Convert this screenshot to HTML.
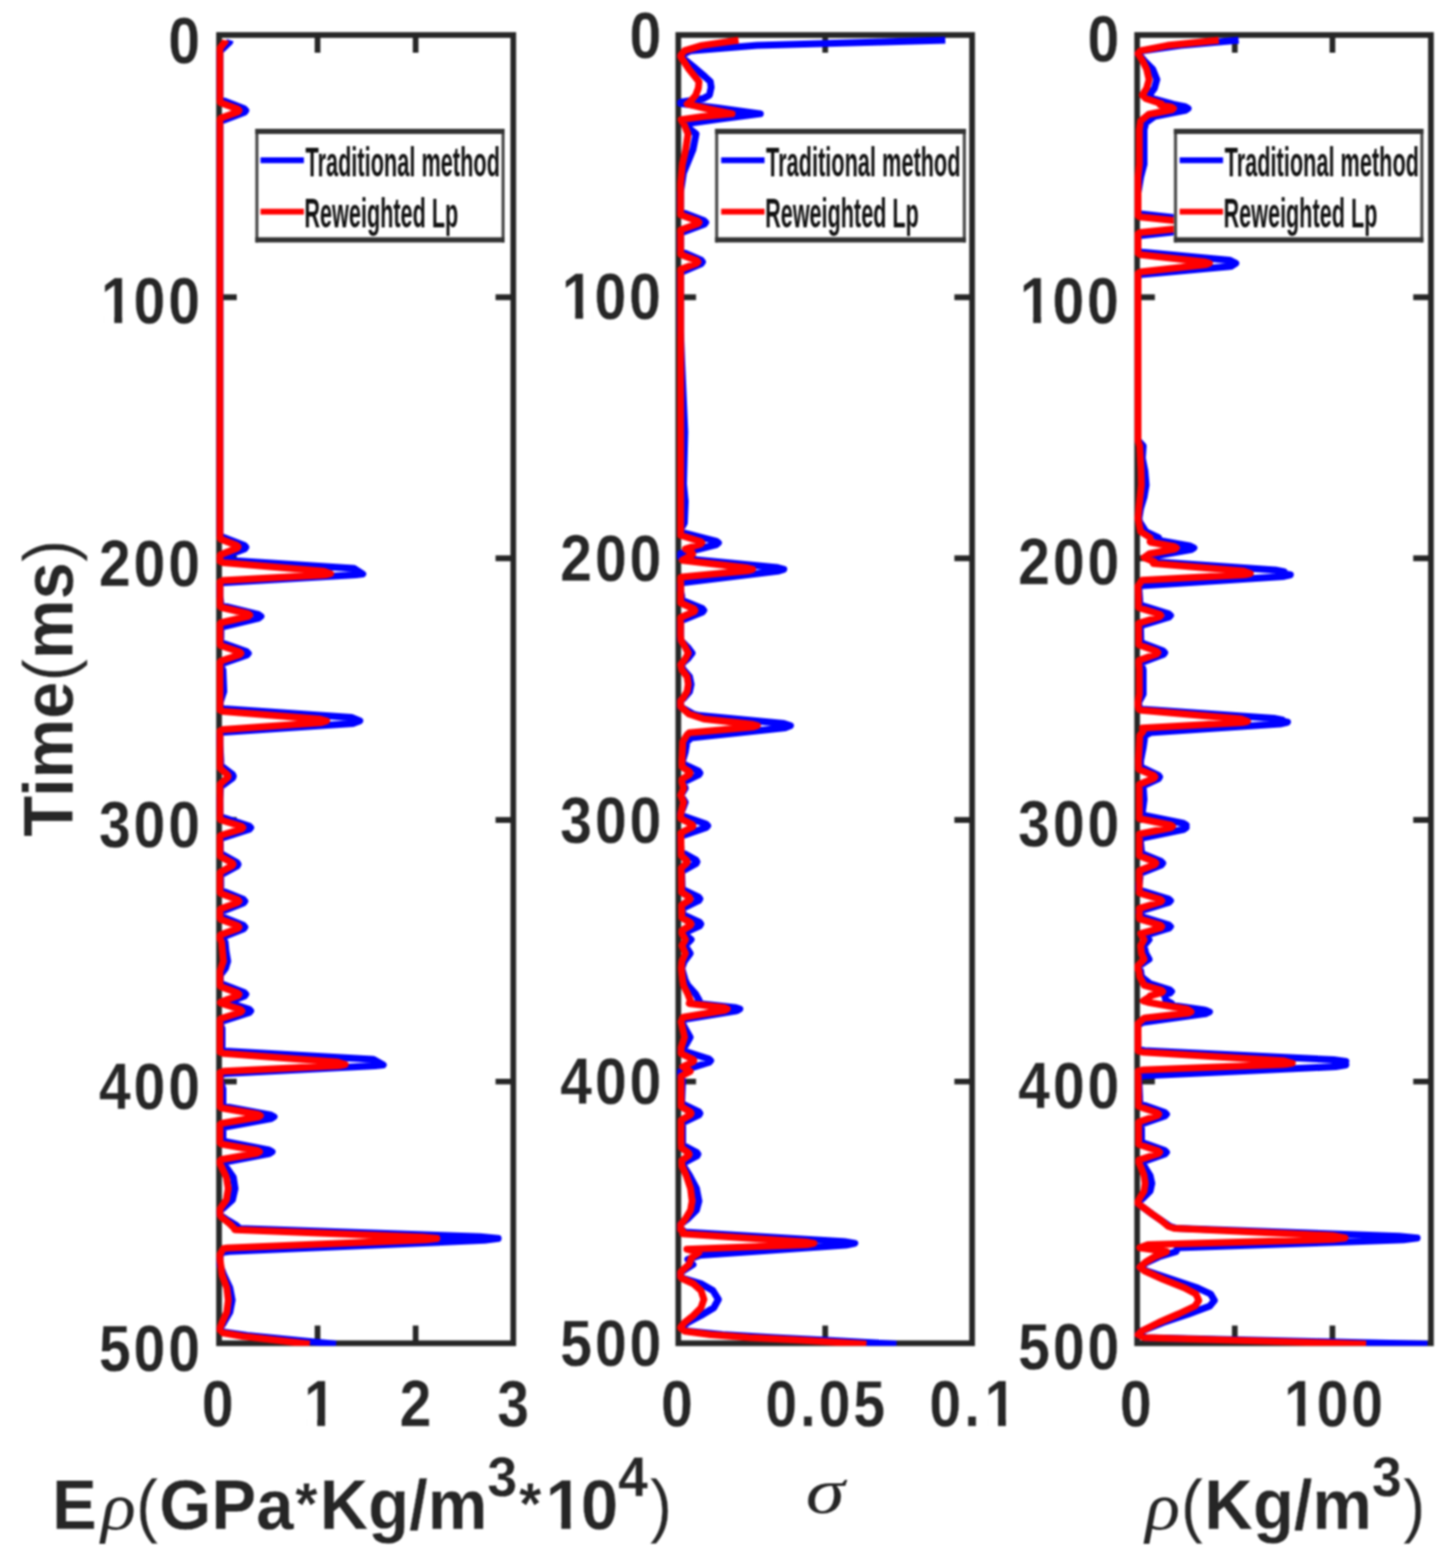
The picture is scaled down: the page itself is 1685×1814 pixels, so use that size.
<!DOCTYPE html>
<html lang="en"><head><meta charset="utf-8"><title>Inversion comparison</title>
<style>html,body{margin:0;padding:0;background:#fff;}body{width:1685px;height:1814px;overflow:hidden;}svg{display:block;}text{font-family:"Liberation Sans",Arial,Helvetica,sans-serif;fill:#262626;}.tk{font-size:72px;font-weight:bold;letter-spacing:3.5px;stroke:#fff;stroke-width:0.3px;}.lb{font-size:77.6px;font-weight:bold;stroke:#fff;stroke-width:0.3px;}.gr{font-family:"Liberation Serif","DejaVu Serif",serif;font-style:italic;font-weight:normal;stroke:none;}.lg{font-size:49px;fill:#111;font-weight:bold;}.pn{font-weight:normal;}.ax{stroke:#262626;stroke-width:6.6;fill:none;}.b{stroke:#0000ff;fill:none;stroke-width:8;stroke-linejoin:round;stroke-linecap:butt;}.r{stroke:#ff0000;fill:none;stroke-width:8;stroke-linejoin:round;stroke-linecap:butt;}</style></head><body>
<svg width="1685" height="1814" viewBox="0 0 1685 1814" style="filter:blur(0.8px)">
<rect width="1685" height="1814" fill="#fff"/>
<g id="panel1">
<path class="ax" style="stroke-width:6.6" d="M253.5 343.9h20.5M594.0 343.9h-20.5M253.5 645.9h20.5M594.0 645.9h-20.5M253.5 948.6h20.5M594.0 948.6h-20.5M253.5 1251.3h20.5M594.0 1251.3h-20.5M367.5 40.5v20.5M367.5 1554.0v-20.5M481.0 40.5v20.5M481.0 1554.0v-20.5"/>
<rect class="ax" x="253.5" y="40.5" width="340.5" height="1513.5"/>
<clipPath id="c0"><rect x="250.2" y="40.5" width="343.8" height="1516.5"/></clipPath>
<g clip-path="url(#c0)">
<polyline class="b" points="266.4,46.5 265.8,48.5 254.9,59.0 254.5,60.5 254.5,113.8 255.4,115.2 255.9,115.5 282.6,125.8 284.5,127.8 283.0,129.8 282.5,130.0 255.5,140.2 254.5,142.0 254.5,619.0 255.4,620.5 282.7,631.0 284.5,633.0 283.0,635.0 255.4,645.5 254.8,646.5 259.5,648.0 408.3,657.5 410.1,657.8 419.8,664.0 411.5,665.0 259.5,674.0 254.5,675.5 254.5,690.0 256.0,700.5 299.1,711.0 302.0,713.0 299.6,715.0 255.9,725.5 255.7,725.8 255.5,743.2 285.3,753.8 287.4,755.8 285.8,757.8 255.6,768.2 255.0,769.0 255.0,770.0 258.0,775.0 259.0,800.0 255.0,812.0 254.9,818.5 259.4,820.0 406.7,830.0 416.4,834.0 408.3,837.0 259.4,847.0 254.6,848.5 254.5,860.0 255.5,880.0 255.5,885.8 269.1,896.0 270.0,898.0 269.2,900.0 255.3,910.2 254.5,925.0 254.7,943.8 255.6,945.0 288.0,955.5 290.1,957.5 288.3,959.5 255.6,970.0 254.9,971.0 255.1,987.2 274.0,997.8 274.3,998.0 275.5,999.9 274.3,1002.0 255.4,1012.2 255.5,1030.0 281.7,1040.5 283.4,1042.5 282.0,1044.5 256.0,1054.8 255.7,1055.0 255.8,1060.0 256.0,1060.2 281.7,1070.5 283.4,1072.5 282.0,1074.5 256.0,1084.8 256.0,1085.0 260.5,1090.0 261.5,1100.0 263.5,1112.0 261.0,1120.0 255.0,1128.0 255.0,1137.0 255.4,1137.8 255.9,1138.0 282.6,1148.2 284.5,1150.3 283.0,1152.2 264.1,1159.5 264.1,1159.8 288.0,1167.5 290.1,1169.5 288.3,1171.5 255.6,1182.0 255.0,1182.8 255.0,1185.0 257.0,1190.0 257.0,1210.0 256.8,1215.0 260.2,1216.0 430.4,1225.5 432.4,1225.8 443.5,1232.0 434.0,1233.0 260.2,1242.0 255.4,1243.2 255.0,1250.0 258.0,1260.0 258.0,1279.8 313.4,1290.0 317.2,1292.0 314.1,1294.0 258.0,1304.2 258.0,1320.2 311.3,1330.5 314.9,1332.5 311.9,1334.5 258.0,1344.8 258.0,1346.0 263.0,1352.0 270.0,1362.0 272.0,1375.0 269.0,1388.0 258.0,1398.0 254.6,1400.8 254.5,1405.0 255.0,1406.0 264.0,1412.0 274.0,1418.0 277.3,1421.2 555.7,1430.8 576.5,1432.8 560.8,1434.8 265.3,1447.8 258.0,1448.8 257.3,1449.0 255.0,1452.0 254.5,1457.0 254.5,1463.2 259.0,1475.0 266.0,1490.0 268.7,1504.0 266.0,1518.0 259.0,1530.0 254.5,1537.0 258.0,1541.0 286.0,1545.0 389.0,1555.0"/>
<polyline class="r" points="261.0,46.5 260.7,48.0 254.7,55.5 254.5,57.0 254.5,117.2 255.1,118.8 275.1,126.2 276.6,127.8 275.5,129.2 275.0,129.5 255.3,136.8 254.5,138.5 254.5,622.0 255.1,623.5 255.5,623.8 274.0,631.0 275.5,632.6 274.5,634.0 274.1,634.2 255.1,641.8 254.5,643.2 254.5,649.2 254.8,649.5 258.0,650.8 259.5,651.0 373.2,660.8 375.2,661.0 382.6,663.7 376.7,665.0 373.4,665.2 258.3,671.5 254.5,673.0 254.5,701.0 255.5,702.5 286.9,710.0 289.0,711.5 287.3,713.0 255.5,720.5 254.5,722.0 254.5,745.2 255.2,746.8 277.2,754.2 278.8,755.8 277.6,757.2 277.0,757.5 255.4,764.8 254.5,766.2 254.5,821.5 258.2,823.0 370.6,832.0 378.0,834.0 371.8,836.0 258.2,844.0 254.5,845.5 254.5,887.5 254.8,889.0 263.4,896.5 264.0,898.0 263.5,899.5 254.8,907.0 254.5,908.5 254.5,947.0 255.3,948.5 279.5,956.0 281.1,957.5 279.8,959.0 255.3,966.5 254.5,968.0 254.5,989.2 254.9,990.8 268.6,998.2 268.9,998.5 269.8,999.9 268.8,1001.5 254.9,1009.0 254.5,1010.5 254.5,1032.0 255.2,1033.5 275.3,1041.0 276.6,1042.5 275.5,1044.0 255.2,1051.5 254.5,1053.0 254.5,1062.0 255.2,1063.5 275.3,1071.0 276.6,1072.5 275.5,1074.0 255.2,1081.5 254.5,1083.0 254.5,1086.0 256.5,1090.0 258.5,1112.0 254.5,1123.5 254.5,1139.8 255.1,1141.2 275.1,1148.8 276.6,1150.3 275.5,1151.8 255.3,1159.2 255.0,1159.8 255.3,1160.5 278.5,1168.0 280.0,1169.5 278.7,1171.0 255.3,1178.5 254.5,1180.0 254.5,1217.0 254.6,1217.2 258.3,1218.5 259.5,1218.8 391.0,1228.8 399.5,1231.5 393.0,1232.8 390.2,1233.0 259.9,1239.2 258.3,1239.5 254.6,1240.8 254.5,1241.0 254.5,1280.2 255.7,1281.5 256.2,1281.8 297.4,1289.0 298.7,1289.2 301.4,1290.7 298.8,1292.2 255.9,1299.8 254.5,1301.2 254.5,1322.0 255.9,1323.5 297.6,1331.0 300.3,1332.5 298.0,1334.0 255.9,1341.5 254.5,1343.0 254.5,1346.0 262.0,1362.0 264.2,1375.0 262.0,1388.0 255.0,1398.0 254.5,1399.0 254.5,1405.0 256.0,1408.0 266.0,1416.0 272.0,1422.0 271.7,1422.5 273.5,1422.8 489.2,1431.2 505.5,1432.8 493.4,1434.2 263.2,1443.8 258.5,1444.5 254.5,1451.2 254.5,1456.0 257.0,1475.0 262.5,1490.0 264.2,1504.0 262.5,1518.0 257.0,1530.0 254.6,1536.5 254.5,1538.5 258.0,1542.0 281.0,1546.0 358.5,1555.0"/>
</g>
<text class="tk" transform="translate(234.7,72.5) scale(0.92,1.05)" text-anchor="end">0</text>
<text class="tk" transform="translate(232.4,374.0) scale(0.92,1.05)" text-anchor="end"><tspan dx="2.5">1</tspan><tspan dx="-2.5">0</tspan>0</text>
<text class="tk" transform="translate(234.7,677.5) scale(0.92,1.05)" text-anchor="end">200</text>
<text class="tk" transform="translate(234.7,979.7) scale(0.92,1.05)" text-anchor="end">300</text>
<text class="tk" transform="translate(234.7,1282.9) scale(0.92,1.05)" text-anchor="end">400</text>
<text class="tk" transform="translate(234.7,1585.6) scale(0.92,1.05)" text-anchor="end">500</text>
<text class="tk" transform="translate(253.6,1650.0) scale(0.92,1.05)" text-anchor="middle">0</text>
<text class="tk" transform="translate(369.4,1650.0) scale(0.92,1.05)" text-anchor="middle"><tspan dx="2.5">1</tspan></text>
<text class="tk" transform="translate(482.6,1650.0) scale(0.92,1.05)" text-anchor="middle">2</text>
<text class="tk" transform="translate(595.6,1650.0) scale(0.92,1.05)" text-anchor="middle">3</text>
<rect x="295.5" y="148.9" width="288.5" height="131.7" fill="#fff"/>
<path fill="#4a4a4a" d="M295.5 148.9h3.6v131.7h-3.6zM580.4 148.9h3.6v131.7h-3.6z"/>
<path fill="#333" d="M295.5 148.9h288.5v6.0h-288.5zM295.5 274.6h288.5v6.0h-288.5z"/>
<path d="M301.5 185.4h50.2" stroke="#0000ff" stroke-width="6.6" fill="none"/>
<path d="M301.5 244.9h50.2" stroke="#ff0000" stroke-width="6.6" fill="none"/>
<text class="lg" transform="translate(353.5,204.3) scale(0.5135,1)">Traditional method</text>
<text class="lg" transform="translate(352.3,263.0) scale(0.511,1)">Reweighted Lp</text>
</g>
<g id="panel2">
<path class="ax" style="stroke-width:6.6" d="M785.0 343.9h20.5M1125.0 343.9h-20.5M785.0 645.9h20.5M1125.0 645.9h-20.5M785.0 948.6h20.5M1125.0 948.6h-20.5M785.0 1251.3h20.5M1125.0 1251.3h-20.5M955.0 40.5v20.5M955.0 1554.0v-20.5"/>
<rect class="ax" x="785.0" y="40.5" width="340.0" height="1513.5"/>
<clipPath id="c1"><rect x="781.7" y="40.5" width="343.3" height="1516.5"/></clipPath>
<g clip-path="url(#c1)">
<polyline class="b" points="1094.0,46.5 876.0,52.6 799.0,58.7 787.6,64.5 787.7,65.2 802.0,76.8 816.0,88.9 822.0,94.4 823.0,101.0 821.0,110.0 814.0,114.0 787.8,118.2 787.6,118.5 787.6,119.8 831.0,125.0 879.9,131.6 834.0,137.5 791.0,143.5 805.5,155.0 802.0,173.0 791.0,200.0 787.6,222.2 787.6,245.0 814.7,255.2 816.7,257.3 815.2,259.2 814.6,259.5 787.7,269.5 787.6,269.8 787.6,290.8 811.4,301.0 813.0,303.0 811.6,305.0 787.6,315.2 787.6,382.8 789.0,420.0 792.5,500.0 791.0,560.0 793.0,580.0 792.0,605.0 788.0,612.0 787.7,615.5 828.7,626.0 831.4,628.0 829.1,630.0 787.6,640.5 787.6,645.2 789.4,646.0 791.2,646.2 898.7,656.5 900.3,656.8 907.0,658.6 901.3,660.5 899.7,660.8 790.5,674.0 789.3,674.2 787.6,675.0 787.6,683.0 789.0,690.0 788.7,694.2 812.8,704.0 814.5,706.0 813.1,708.0 787.6,718.2 787.6,739.0 788.0,741.0 796.0,749.0 801.0,755.6 796.0,762.0 788.0,769.0 791.0,775.0 798.0,783.0 799.8,791.7 798.0,800.0 791.0,808.0 787.7,810.5 787.6,817.5 788.0,818.0 802.0,826.0 809.0,827.8 907.1,837.0 914.8,839.5 908.4,842.0 800.2,853.5 795.0,858.0 793.0,870.0 790.0,880.0 790.3,883.5 808.5,892.2 810.0,894.3 808.8,896.2 808.4,896.5 791.0,904.8 793.0,912.0 788.0,920.0 793.0,928.0 790.0,936.0 787.6,940.8 787.6,943.0 816.9,953.2 819.0,955.3 817.4,957.2 816.8,957.5 787.9,967.5 787.7,967.8 788.3,985.2 788.4,985.5 805.4,995.0 806.6,997.0 805.6,999.0 788.9,1008.2 789.5,1028.5 789.7,1028.8 808.5,1037.8 810.0,1039.8 808.8,1041.8 808.4,1042.0 790.2,1050.8 790.4,1058.0 790.5,1058.2 809.5,1067.0 811.0,1069.0 809.8,1071.0 791.1,1079.5 791.0,1079.8 791.0,1080.0 799.8,1087.0 793.0,1094.0 798.7,1103.0 792.0,1112.0 789.0,1120.0 793.0,1134.0 796.0,1140.0 805.0,1150.0 809.0,1157.0 806.0,1160.8 851.5,1165.8 856.2,1167.3 852.8,1169.2 851.5,1169.5 791.5,1179.2 791.0,1179.5 789.0,1182.0 793.0,1190.0 798.7,1200.0 793.0,1210.0 788.0,1214.0 787.9,1214.8 820.2,1225.0 822.4,1227.0 820.6,1229.0 787.9,1239.2 787.6,1239.5 787.6,1246.2 790.0,1250.0 789.0,1274.0 789.1,1276.5 789.3,1276.8 808.6,1286.0 810.0,1288.0 808.8,1290.0 790.0,1299.0 790.0,1320.0 790.2,1324.5 790.3,1324.8 806.3,1333.2 807.7,1335.3 806.6,1337.2 791.0,1345.5 790.9,1345.8 791.0,1349.0 798.0,1360.0 806.0,1375.0 808.8,1389.4 806.0,1400.0 796.0,1410.0 787.6,1416.2 787.6,1422.5 791.0,1424.0 791.9,1425.2 793.8,1425.5 974.6,1436.2 977.7,1436.5 989.3,1438.4 979.9,1440.2 977.7,1440.5 812.2,1452.0 810.2,1452.2 796.0,1457.0 802.0,1463.0 791.0,1470.0 787.9,1472.2 787.6,1472.5 787.6,1477.0 791.0,1479.0 811.0,1485.0 825.0,1493.0 831.4,1503.3 826.0,1513.0 811.0,1522.0 796.0,1530.0 789.0,1536.0 796.0,1540.0 836.0,1544.0 896.0,1547.5 956.0,1550.5 1037.5,1555.0"/>
<polyline class="r" points="854.7,46.5 812.2,52.6 792.2,58.7 787.6,64.2 787.7,65.5 797.2,80.0 808.9,94.4 808.2,102.0 805.2,110.0 800.2,116.0 795.2,120.4 819.2,126.0 847.2,131.6 812.2,135.0 788.2,138.4 792.2,145.0 796.2,155.0 793.2,175.0 789.7,190.0 787.7,212.0 787.6,248.5 807.4,255.8 808.9,257.3 807.8,258.8 807.2,259.0 787.6,266.0 787.7,294.2 788.0,294.5 806.4,301.5 807.7,303.0 806.6,304.5 788.0,311.5 787.7,311.8 787.7,619.2 810.6,626.5 812.2,628.0 810.9,629.5 793.2,635.0 793.4,635.2 800.5,639.0 801.6,640.6 800.9,642.0 800.5,642.2 789.5,648.0 789.8,648.2 864.9,657.0 870.9,658.6 866.9,660.0 865.1,660.2 789.6,667.5 788.3,667.8 787.7,668.2 787.7,697.5 803.2,704.5 804.3,706.0 803.4,707.5 787.7,714.5 787.6,714.8 787.6,735.5 788.2,741.0 793.2,749.0 796.5,755.6 793.2,762.0 787.7,769.0 789.2,775.0 795.2,783.0 796.5,791.7 795.2,800.0 790.2,808.0 787.6,810.8 787.6,817.2 788.2,818.0 797.2,826.0 814.5,831.8 871.1,838.0 876.5,839.5 872.0,841.0 797.7,847.8 795.2,850.0 790.2,858.0 789.2,880.0 789.2,887.0 797.9,892.8 798.7,894.3 798.1,895.8 789.2,901.5 789.2,905.0 791.2,912.0 787.7,920.0 791.2,928.0 787.7,942.0 787.8,946.8 787.8,947.0 800.9,953.8 802.0,955.3 801.2,956.8 788.1,963.5 787.9,963.8 788.3,989.8 794.7,995.5 795.3,997.0 794.8,998.5 788.4,1004.2 788.7,1032.2 797.9,1038.2 798.7,1039.8 798.1,1041.2 788.8,1047.2 789.0,1061.5 799.0,1067.5 799.8,1069.0 799.1,1070.5 789.2,1076.5 789.2,1080.0 793.2,1087.0 789.2,1094.0 793.2,1103.0 789.2,1112.0 788.5,1120.0 790.0,1134.0 791.0,1140.0 796.0,1150.0 799.0,1157.5 797.6,1160.8 797.8,1161.0 837.8,1165.8 841.6,1167.3 838.9,1168.8 837.6,1169.0 791.0,1176.8 790.4,1177.0 788.2,1182.0 792.2,1200.0 788.2,1212.0 788.2,1218.8 802.0,1225.5 803.0,1227.0 802.1,1228.5 790.2,1234.2 798.8,1239.5 788.2,1245.0 788.2,1280.0 799.0,1286.5 799.8,1288.0 799.1,1289.5 788.2,1296.0 788.2,1320.0 788.5,1327.8 796.8,1333.8 797.6,1335.3 797.0,1336.8 789.0,1342.5 789.2,1349.0 794.2,1360.0 799.2,1375.0 801.0,1389.4 799.2,1400.0 793.2,1410.0 788.2,1416.0 787.6,1416.5 787.6,1422.5 790.2,1424.0 790.2,1427.2 792.2,1427.5 930.3,1436.8 933.2,1437.0 941.9,1438.4 934.9,1439.8 931.5,1440.0 794.9,1445.2 808.9,1449.0 800.2,1455.0 797.2,1463.0 789.2,1470.0 787.6,1472.0 787.6,1477.2 789.2,1479.0 802.2,1485.0 811.2,1493.0 814.6,1503.3 811.2,1513.0 802.2,1522.0 792.2,1530.0 787.6,1535.5 787.6,1536.2 792.2,1540.0 822.2,1544.0 867.2,1547.5 927.2,1550.5 1002.7,1555.0"/>
</g>
<text class="tk" transform="translate(768.5,66.5) scale(0.92,1.05)" text-anchor="end">0</text>
<text class="tk" transform="translate(765.8,369.2) scale(0.92,1.05)" text-anchor="end"><tspan dx="2.5">1</tspan><tspan dx="-2.5">0</tspan>0</text>
<text class="tk" transform="translate(768.5,671.9) scale(0.92,1.05)" text-anchor="end">200</text>
<text class="tk" transform="translate(768.5,974.6) scale(0.92,1.05)" text-anchor="end">300</text>
<text class="tk" transform="translate(768.5,1277.3) scale(0.92,1.05)" text-anchor="end">400</text>
<text class="tk" transform="translate(768.5,1580.0) scale(0.92,1.05)" text-anchor="end">500</text>
<text class="tk" transform="translate(785.1,1650.0) scale(0.92,1.05)" text-anchor="middle">0</text>
<text class="tk" transform="translate(956.6,1650.0) scale(0.92,1.05)" text-anchor="middle">0.05</text>
<text class="tk" transform="translate(1127.6,1650.0) scale(0.92,1.05)" text-anchor="middle">0.<tspan dx="2.5">1</tspan></text>
<rect x="827.6" y="148.9" width="290.2" height="131.7" fill="#fff"/>
<path fill="#4a4a4a" d="M827.6 148.9h3.6v131.7h-3.6zM1114.2 148.9h3.6v131.7h-3.6z"/>
<path fill="#333" d="M827.6 148.9h290.2v6.0h-290.2zM827.6 274.6h290.2v6.0h-290.2z"/>
<path d="M834.6 185.4h50.2" stroke="#0000ff" stroke-width="6.6" fill="none"/>
<path d="M834.6 244.9h50.2" stroke="#ff0000" stroke-width="6.6" fill="none"/>
<text class="lg" transform="translate(886.6,204.3) scale(0.5135,1)">Traditional method</text>
<text class="lg" transform="translate(885.4,263.0) scale(0.511,1)">Reweighted Lp</text>
</g>
<g id="panel3">
<path class="ax" style="stroke-width:6.6" d="M1316.0 343.9h20.5M1656.0 343.9h-20.5M1316.0 645.9h20.5M1656.0 645.9h-20.5M1316.0 948.6h20.5M1656.0 948.6h-20.5M1316.0 1251.3h20.5M1656.0 1251.3h-20.5M1542.0 40.5v20.5M1542.0 1554.0v-20.5M1429.0 40.5v20.5M1429.0 1554.0v-20.5"/>
<rect class="ax" x="1316.0" y="40.5" width="340.0" height="1513.5"/>
<clipPath id="c2"><rect x="1312.7" y="40.5" width="343.3" height="1516.5"/></clipPath>
<g clip-path="url(#c2)">
<polyline class="b" points="1433.5,46.5 1366.0,52.6 1322.0,58.7 1317.0,62.0 1324.0,70.0 1334.0,80.0 1338.8,92.0 1336.0,102.0 1330.0,110.0 1334.0,114.0 1356.0,120.0 1355.7,120.2 1356.4,120.5 1371.5,123.5 1375.0,125.5 1372.1,127.5 1336.5,134.5 1335.9,134.8 1326.0,142.0 1324.0,150.0 1324.0,190.0 1320.0,205.0 1317.0,223.0 1317.0,246.0 1320.1,247.5 1414.8,258.0 1421.0,260.0 1415.8,262.0 1320.1,272.5 1317.0,274.0 1317.0,290.0 1320.2,291.5 1322.0,291.8 1422.3,301.0 1423.7,301.2 1430.2,304.6 1424.7,308.0 1422.9,308.2 1321.5,317.5 1320.1,317.8 1317.2,319.0 1317.0,319.2 1317.0,509.5 1323.0,516.0 1322.0,530.0 1325.0,545.0 1326.4,561.0 1324.0,575.0 1320.0,588.0 1318.0,600.0 1319.0,604.0 1326.0,615.0 1341.0,622.0 1341.1,625.2 1377.5,631.8 1381.7,633.8 1378.5,635.8 1330.6,644.2 1328.0,645.0 1341.0,650.0 1340.8,650.2 1475.9,659.5 1486.0,661.5 1480.7,662.8 1493.3,665.0 1484.5,667.0 1322.3,677.5 1319.2,678.5 1318.0,680.0 1319.0,694.0 1319.2,699.8 1352.3,710.0 1354.6,712.0 1352.7,714.0 1319.8,724.0 1320.3,743.2 1320.6,743.5 1346.0,753.0 1347.9,755.0 1346.4,757.0 1321.0,766.5 1321.0,768.0 1323.0,775.0 1323.0,803.0 1318.0,812.0 1318.0,816.0 1319.5,819.8 1322.0,820.5 1474.0,831.0 1484.0,833.0 1480.9,833.8 1490.0,835.5 1481.3,837.5 1330.8,847.5 1331.0,848.0 1325.0,851.0 1323.0,865.0 1320.0,880.0 1320.0,886.0 1320.2,887.2 1320.4,887.5 1340.4,896.8 1342.0,898.8 1340.8,900.8 1322.9,909.0 1324.0,925.0 1322.0,940.0 1321.9,942.5 1322.3,942.8 1369.4,952.5 1372.7,954.5 1370.6,956.0 1370.6,956.2 1372.7,957.5 1369.9,959.5 1320.3,969.8 1320.0,975.0 1321.0,985.0 1320.9,987.2 1343.6,996.5 1345.6,998.6 1344.2,1000.5 1343.8,1000.8 1320.0,1010.2 1318.0,1025.0 1318.0,1029.2 1318.1,1029.5 1352.3,1040.0 1354.6,1042.0 1352.7,1044.0 1318.1,1054.5 1318.0,1055.0 1322.0,1060.0 1322.0,1060.5 1322.5,1060.8 1351.9,1069.8 1352.5,1070.0 1354.6,1071.9 1352.9,1073.8 1352.4,1074.0 1326.0,1082.0 1325.9,1082.2 1329.8,1087.0 1324.0,1094.0 1326.0,1103.0 1329.8,1109.7 1322.0,1115.0 1317.0,1117.8 1317.0,1120.5 1320.0,1123.0 1321.0,1130.0 1331.1,1138.2 1353.5,1145.0 1355.8,1147.0 1353.9,1149.0 1347.1,1151.0 1347.1,1151.2 1348.0,1152.0 1349.0,1157.0 1356.0,1161.0 1353.3,1162.8 1394.0,1168.5 1395.1,1168.8 1399.7,1170.6 1395.8,1172.5 1394.5,1172.8 1322.1,1182.8 1317.0,1186.0 1317.1,1214.0 1324.2,1215.5 1543.2,1226.0 1557.6,1228.0 1545.6,1230.0 1545.0,1230.2 1557.6,1232.0 1545.6,1234.0 1324.2,1244.5 1318.2,1245.8 1317.9,1246.0 1318.0,1250.0 1319.0,1272.0 1319.4,1277.0 1348.0,1287.0 1350.0,1289.0 1348.3,1291.0 1320.9,1300.5 1320.7,1300.8 1321.0,1305.0 1321.1,1321.5 1348.0,1331.0 1350.0,1333.0 1348.3,1335.0 1322.0,1344.2 1322.0,1345.0 1326.0,1352.0 1331.0,1360.0 1333.0,1369.0 1331.0,1378.0 1323.0,1386.0 1317.2,1390.8 1317.0,1391.0 1317.0,1392.2 1317.1,1392.5 1334.0,1405.0 1354.0,1418.8 1361.2,1421.0 1619.2,1430.2 1640.0,1432.3 1624.3,1434.2 1618.2,1434.5 1363.5,1443.5 1362.8,1443.8 1361.0,1448.0 1341.0,1454.0 1328.0,1460.0 1319.0,1466.0 1326.0,1470.0 1386.0,1490.0 1401.0,1497.0 1405.4,1504.5 1400.0,1511.0 1376.0,1520.0 1346.0,1530.0 1321.0,1540.0 1317.0,1544.0 1326.0,1547.5 1652.0,1555.0"/>
<polyline class="r" points="1410.5,46.5 1351.0,52.6 1320.0,58.7 1317.0,62.0 1322.0,70.0 1327.0,80.0 1329.8,92.0 1327.0,102.0 1322.0,110.0 1326.0,114.0 1344.0,120.0 1342.5,121.2 1343.1,121.5 1355.5,124.0 1358.0,125.5 1356.0,127.0 1329.5,132.2 1329.0,132.5 1320.0,140.0 1318.5,150.0 1318.5,190.0 1317.0,205.0 1317.0,249.5 1319.4,251.0 1391.3,258.5 1396.0,260.0 1392.0,261.5 1319.4,269.0 1317.0,270.5 1317.0,293.0 1319.3,294.5 1320.8,294.8 1393.9,303.0 1395.2,303.2 1399.7,304.6 1395.8,306.0 1394.2,306.2 1320.4,314.5 1319.2,314.8 1317.0,316.2 1317.0,510.2 1319.0,516.0 1320.5,545.0 1320.8,561.0 1318.0,588.0 1317.0,600.0 1320.0,615.0 1331.0,622.0 1331.0,627.0 1331.5,627.2 1358.5,632.2 1361.4,633.8 1359.3,635.2 1330.0,640.8 1324.0,645.0 1336.0,650.0 1334.8,651.8 1336.3,652.0 1439.3,660.8 1447.0,663.5 1441.2,664.8 1438.6,665.0 1321.8,671.2 1321.4,671.5 1317.0,678.0 1317.5,694.0 1317.6,702.5 1317.8,703.0 1341.8,710.5 1343.4,712.0 1342.1,713.5 1317.8,721.0 1317.7,721.2 1317.9,746.0 1338.6,753.5 1340.0,755.0 1338.8,756.5 1318.0,764.0 1318.0,768.0 1318.5,775.0 1318.5,803.0 1317.0,812.0 1317.0,816.0 1317.9,820.5 1320.3,821.5 1321.4,821.8 1436.2,831.8 1443.7,834.5 1438.0,835.8 1435.5,836.0 1322.2,842.2 1323.0,846.0 1319.0,851.0 1317.5,880.0 1317.8,889.8 1318.1,890.0 1335.3,897.2 1336.6,898.8 1335.7,900.2 1335.1,900.5 1318.4,907.5 1318.5,947.0 1354.6,954.5 1357.0,956.0 1355.0,957.5 1318.5,965.0 1318.5,989.8 1318.6,990.0 1336.2,997.0 1337.7,998.6 1336.7,1000.0 1336.3,1000.2 1318.5,1007.2 1318.5,1033.0 1318.7,1033.2 1342.8,1040.5 1344.5,1042.0 1343.1,1043.5 1318.7,1050.8 1318.5,1051.0 1318.5,1060.0 1318.7,1063.0 1319.0,1063.2 1342.3,1070.2 1343.0,1070.5 1344.5,1071.9 1343.3,1073.2 1342.8,1073.5 1320.1,1080.2 1324.0,1087.0 1320.0,1094.0 1321.0,1103.0 1324.0,1109.7 1317.0,1117.0 1317.0,1121.5 1318.0,1123.0 1319.0,1130.0 1324.1,1139.8 1343.9,1145.5 1345.6,1147.0 1344.2,1148.5 1331.0,1152.2 1330.7,1152.5 1331.0,1153.0 1323.0,1158.0 1328.4,1159.5 1374.3,1167.8 1378.3,1170.6 1375.2,1172.0 1324.6,1177.8 1323.9,1178.0 1317.0,1184.0 1317.0,1215.5 1317.2,1215.8 1321.6,1217.0 1323.2,1217.2 1485.1,1227.2 1495.6,1230.0 1487.6,1231.2 1484.1,1231.5 1323.6,1237.8 1321.6,1238.0 1317.2,1239.2 1317.6,1279.8 1317.7,1280.0 1339.6,1287.5 1341.0,1289.0 1339.8,1290.5 1317.7,1298.0 1317.8,1324.0 1340.5,1331.5 1342.0,1333.0 1340.8,1334.5 1318.0,1342.0 1318.0,1345.0 1321.0,1352.0 1324.0,1360.0 1325.3,1369.0 1324.0,1378.0 1319.0,1386.0 1317.0,1389.8 1317.0,1392.2 1317.1,1392.5 1334.0,1405.0 1344.0,1412.0 1352.0,1418.8 1358.8,1421.0 1542.1,1429.5 1556.5,1432.3 1542.8,1433.8 1328.4,1440.0 1319.0,1443.6 1350.0,1448.0 1336.0,1454.0 1326.0,1460.0 1319.0,1466.0 1324.0,1470.0 1346.0,1480.0 1371.0,1490.0 1384.0,1497.0 1387.3,1504.5 1383.0,1511.0 1364.0,1520.0 1341.0,1530.0 1321.0,1540.0 1317.0,1544.0 1324.0,1547.5 1581.0,1555.0"/>
</g>
<text class="tk" transform="translate(1298.5,70.8) scale(0.92,1.05)" text-anchor="end">0</text>
<text class="tk" transform="translate(1295.8,373.5) scale(0.92,1.05)" text-anchor="end"><tspan dx="2.5">1</tspan><tspan dx="-2.5">0</tspan>0</text>
<text class="tk" transform="translate(1298.5,676.2) scale(0.92,1.05)" text-anchor="end">200</text>
<text class="tk" transform="translate(1298.5,978.9) scale(0.92,1.05)" text-anchor="end">300</text>
<text class="tk" transform="translate(1298.5,1281.6) scale(0.92,1.05)" text-anchor="end">400</text>
<text class="tk" transform="translate(1298.5,1584.3) scale(0.92,1.05)" text-anchor="end">500</text>
<text class="tk" transform="translate(1316.1,1650.0) scale(0.92,1.05)" text-anchor="middle">0</text>
<text class="tk" transform="translate(1542.6,1650.0) scale(0.92,1.05)" text-anchor="middle"><tspan dx="2.5">1</tspan><tspan dx="-2.5">0</tspan>0</text>
<rect x="1358.6" y="148.9" width="288.7" height="131.7" fill="#fff"/>
<path fill="#4a4a4a" d="M1358.6 148.9h3.6v131.7h-3.6zM1643.7 148.9h3.6v131.7h-3.6z"/>
<path fill="#333" d="M1358.6 148.9h288.7v6.0h-288.7zM1358.6 274.6h288.7v6.0h-288.7z"/>
<path d="M1365.2 185.4h50.2" stroke="#0000ff" stroke-width="6.6" fill="none"/>
<path d="M1365.2 244.9h50.2" stroke="#ff0000" stroke-width="6.6" fill="none"/>
<text class="lg" transform="translate(1417.2,204.3) scale(0.5135,1)">Traditional method</text>
<text class="lg" transform="translate(1416.0,263.0) scale(0.511,1)">Reweighted Lp</text>
</g>
<text class="lb" transform="translate(84,968) rotate(-90) scale(1,1.05)">Time<tspan class="pn">(</tspan>ms<tspan class="pn">)</tspan></text><text class="lb" transform="translate(60.3,1768.5) scale(1,1.05)">E</text><text class="lb gr" transform="translate(117,1768.5) scale(1.06,1)" style="font-size:79px">ρ</text><text class="lb" transform="translate(158.5,1768.5) scale(1,1.05)"><tspan class="pn" dx="-1.2">(</tspan><tspan dx="1.2">G</tspan>Pa<tspan font-size="66" dy="-5" dx="2.2">*</tspan><tspan dy="5" dx="2.6">K</tspan>g/m<tspan font-size="62" dy="-35.5">3</tspan><tspan font-size="66" dy="30.5" dx="2.2">*</tspan><tspan dy="5" dx="5.1">1</tspan><tspan dx="-2.5">0</tspan><tspan font-size="62" dy="-35.5">4</tspan><tspan class="pn" dy="35.5" dx="2.2">)</tspan></text><text class="lb gr" transform="translate(955,1750) scale(1.22,1)" text-anchor="middle" style="font-size:75px">σ</text><text class="lb gr" transform="translate(1325.5,1768.5) scale(1.06,1)" style="font-size:79px">ρ</text><text class="lb" transform="translate(1368,1768.5) scale(1,1.05)"><tspan class="pn" dx="-1.5">(</tspan><tspan dx="1.5">K</tspan>g/m<tspan font-size="62" dy="-35.5">3</tspan><tspan class="pn" dy="35.5" dx="1.5">)</tspan></text>
<g id="digit-trim"><g transform="translate(232.4,374.0) scale(0.92,1.05)"><rect x="-121.80" y="-7.84" width="12.97" height="9.84" fill="#fff"/><rect x="-98.95" y="-7.84" width="12.06" height="9.84" fill="#fff"/></g><g transform="translate(369.4,1650.0) scale(0.92,1.05)"><rect x="-15.44" y="-7.84" width="12.97" height="9.84" fill="#fff"/><rect x="7.41" y="-7.84" width="12.06" height="9.84" fill="#fff"/></g><g transform="translate(765.8,369.2) scale(0.92,1.05)"><rect x="-121.80" y="-7.84" width="12.97" height="9.84" fill="#fff"/><rect x="-98.95" y="-7.84" width="12.06" height="9.84" fill="#fff"/></g><g transform="translate(1127.6,1650.0) scale(0.92,1.05)"><rect x="16.83" y="-7.84" width="12.97" height="9.84" fill="#fff"/><rect x="39.69" y="-7.84" width="12.06" height="9.84" fill="#fff"/></g><g transform="translate(1295.8,373.5) scale(0.92,1.05)"><rect x="-121.80" y="-7.84" width="12.97" height="9.84" fill="#fff"/><rect x="-98.95" y="-7.84" width="12.06" height="9.84" fill="#fff"/></g><g transform="translate(1542.6,1650.0) scale(0.92,1.05)"><rect x="-57.73" y="-7.84" width="12.97" height="9.84" fill="#fff"/><rect x="-34.88" y="-7.84" width="12.06" height="9.84" fill="#fff"/></g><g transform="translate(158.5,1768.5) scale(1,1.05)"><rect x="477.16" y="-8.45" width="13.98" height="10.45" fill="#fff"/><rect x="501.79" y="-8.45" width="13.00" height="10.45" fill="#fff"/></g></g>
</svg></body></html>
